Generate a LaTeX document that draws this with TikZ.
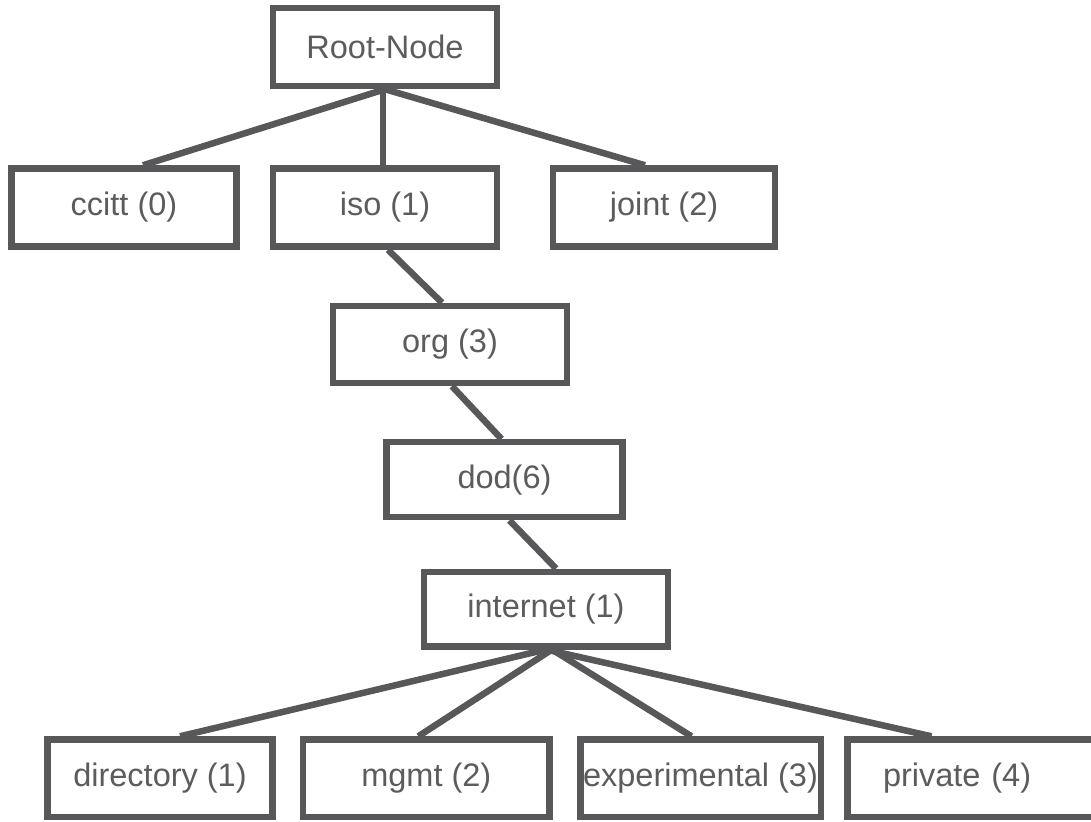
\documentclass[tikz,border=0pt]{standalone}
\usepackage{fontspec}
\setmainfont{Liberation Sans}
\definecolor{ln}{RGB}{88,88,90}
\definecolor{tx}{RGB}{92,92,94}
\pgfdeclarelayer{bg}
\pgfsetlayers{bg,main}
\begin{document}
\begin{tikzpicture}[x=1pt,y=-1pt,
  box/.style={draw=ln, line width=6.5pt, fill=white, text=tx, inner sep=0pt,
    minimum height=78pt, font=\fontsize{32.5}{39}\selectfont},
  link/.style={draw=ln, line width=6.5pt}]
\useasboundingbox (0,0) rectangle (1091,821);
% level 0
\node[box, minimum width=224pt] (root) at (385,47) {Root-Node};
% level 1
\node[box, minimum width=225pt] (ccitt) at (124,207.5) {ccitt (0)};
\node[box, minimum width=224pt] (iso) at (385,207.5) {iso (1)};
\node[box, minimum width=222pt] (joint) at (664,207.5) {joint (2)};
% chain
\node[box, minimum width=234pt, minimum height=77pt] (org) at (450,344.5) {org (3)};
\node[box, minimum width=236pt, minimum height=75pt] (dod) at (504.5,479.7) {dod(6)};
\node[box, minimum width=244pt, minimum height=74.5pt] (internet) at (546,609) {internet (1)};
% bottom level
\node[box, minimum width=225pt, minimum height=77.5pt] (directory) at (160,778.3) {directory (1)};
\node[box, minimum width=246.5pt, minimum height=77.5pt] (mgmt) at (426.3,778.3) {mgmt (2)};
\node[box, minimum width=240.5pt, minimum height=77.5pt] (experimental) at (700.5,778.3) {experimental (3)};
\node[box, minimum width=256pt, minimum height=77.5pt, text width=248pt, align=left] (private) at (975.5,778.3) {\hspace*{31.5pt}private (4)};
\begin{pgfonlayer}{bg}
\draw[link] (root.south) -- ([xshift=19pt]ccitt.north);
\draw[link] ([xshift=-2pt]root.south) -- ([xshift=-2pt]iso.north);
\draw[link] (root.south) -- ([xshift=-19pt]joint.north);
\draw[link] ([xshift=3pt]iso.south) -- ([xshift=-8pt]org.north);
\draw[link] ([xshift=2pt]org.south) -- ([xshift=-3pt]dod.north);
\draw[link] ([xshift=5pt]dod.south) -- ([xshift=10pt]internet.north);
\draw[link] (internet.south) -- ([xshift=20pt]directory.north);
\draw[link] ([xshift=6pt]internet.south) -- ([xshift=-8pt]mgmt.north);
\draw[link] ([xshift=6pt]internet.south) -- ([xshift=-9pt]experimental.north);
\draw[link] (internet.south) -- ([xshift=-44pt]private.north);
\end{pgfonlayer}
\end{tikzpicture}
\end{document}
